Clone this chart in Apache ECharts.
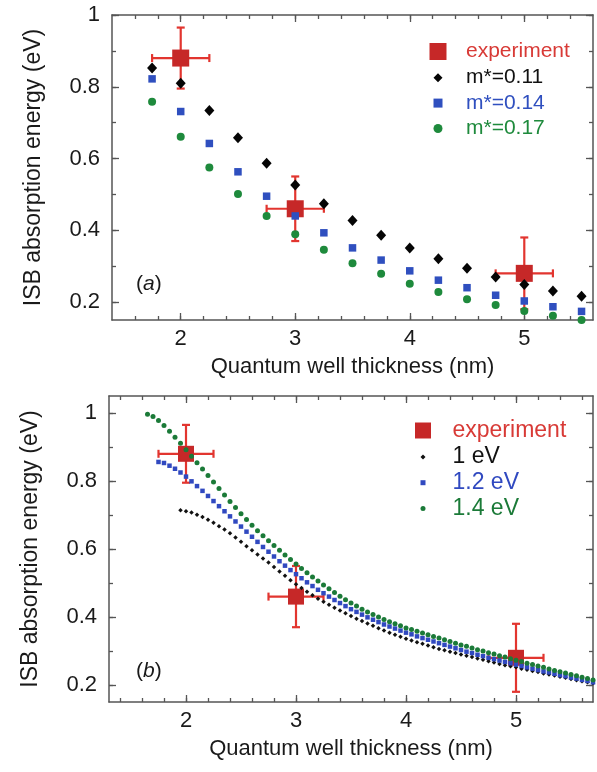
<!DOCTYPE html>
<html><head><meta charset="utf-8">
<script src="https://cdn.jsdelivr.net/npm/echarts@6/dist/echarts.min.js"></script>
<style>html,body{margin:0;padding:0;background:#fff}#c{width:597px;height:772px}</style>
</head><body><div id="c"></div>
<script>
// ---------- Panel (a) data ----------
const thicknessA = [1.75,2,2.25,2.5,2.75,3,3.25,3.5,3.75,4,4.25,4.5,4.75,5,5.25,5.5];
const mStar011 = [0.852,0.810,0.734,0.658,0.587,0.526,0.474,0.427,0.386,0.351,0.321,0.294,0.270,0.249,0.231,0.216];
const mStar014 = [0.822,0.731,0.642,0.563,0.495,0.440,0.393,0.351,0.317,0.287,0.261,0.240,0.219,0.203,0.187,0.174];
const mStar017 = [0.758,0.661,0.575,0.501,0.440,0.389,0.346,0.308,0.279,0.251,0.228,0.208,0.192,0.175,0.162,0.150];

// ---------- Experiment (both panels) ----------
const expThickness = [2,3,5];
const expEnergy = [0.88,0.46,0.28];
const expThicknessErr = [0.25,0.25,0.25];
const expEnergyErr = [0.085,0.09,0.10];

// ---------- Panel (b) data ----------
const thicknessB = [1.65,1.7,1.75,1.8,1.85,1.9,1.95,
 2,2.05,2.1,2.15,2.2,2.25,2.3,2.35,2.4,2.45,
 2.5,2.55,2.6,2.65,2.7,2.75,2.8,2.85,2.9,2.95,
 3,3.05,3.1,3.15,3.2,3.25,3.3,3.35,3.4,3.45,
 3.5,3.55,3.6,3.65,3.7,3.75,3.8,3.85,3.9,3.95,
 4,4.05,4.1,4.15,4.2,4.25,4.3,4.35,4.4,4.45,
 4.5,4.55,4.6,4.65,4.7,4.75,4.8,4.85,4.9,4.95,
 5,5.05,5.1,5.15,5.2,5.25,5.3,5.35,5.4,5.45,
 5.5,5.55,5.6,5.65,5.7];
const offset1eV = [null,null,null,null,null,null,0.714,
 0.711,0.707,0.701,0.694,0.686,0.677,0.667,0.657,0.646,0.634,
 0.621,0.608,0.596,0.584,0.572,0.560,0.547,0.534,0.521,0.508,
 0.496,0.485,0.474,0.464,0.454,0.445,0.436,0.427,0.419,0.411,
 0.403,0.395,0.388,0.381,0.374,0.367,0.360,0.354,0.348,0.342,
 0.336,0.331,0.326,0.321,0.316,0.311,0.306,0.302,0.298,0.294,
 0.290,0.286,0.282,0.278,0.274,0.270,0.266,0.262,0.258,0.255,
 0.252,0.248,0.245,0.241,0.238,0.234,0.231,0.228,0.224,0.221,
 0.218,0.214,0.211,0.208,0.205];
const offset12eV = [null,null,0.856,0.853,0.845,0.836,0.825,
 0.813,0.799,0.785,0.771,0.756,0.741,0.726,0.711,0.696,0.681,
 0.666,0.651,0.636,0.621,0.606,0.592,0.578,0.564,0.551,0.538,
 0.526,0.514,0.502,0.491,0.480,0.470,0.460,0.450,0.441,0.432,
 0.423,0.415,0.407,0.399,0.392,0.385,0.378,0.372,0.366,0.360,
 0.354,0.349,0.343,0.338,0.333,0.328,0.323,0.318,0.313,0.308,
 0.303,0.298,0.294,0.289,0.285,0.280,0.276,0.272,0.268,0.264,
 0.260,0.256,0.252,0.248,0.244,0.240,0.237,0.233,0.229,0.226,
 0.222,0.219,0.215,0.212,0.208];
const offset14eV = [0.996,0.990,0.978,0.963,0.946,0.929,0.911,
 0.892,0.873,0.854,0.835,0.816,0.797,0.778,0.759,0.740,0.722,
 0.704,0.687,0.670,0.654,0.639,0.624,0.610,0.596,0.582,0.569,
 0.556,0.543,0.530,0.518,0.506,0.494,0.483,0.472,0.461,0.451,
 0.441,0.432,0.423,0.415,0.407,0.400,0.393,0.386,0.380,0.374,
 0.368,0.363,0.358,0.353,0.348,0.343,0.338,0.333,0.328,0.323,
 0.318,0.314,0.309,0.304,0.300,0.295,0.291,0.286,0.282,0.277,
 0.273,0.269,0.264,0.260,0.256,0.252,0.247,0.243,0.239,0.235,
 0.231,0.227,0.223,0.219,0.215];

// ---------- Tick values ----------
const xMajorTicks = [2,3,4,5];
const xMinorTicksA = [1.6,1.8,2,2.2,2.4,2.6,2.8,3,3.2,3.4,3.6,3.8,4,4.2,4.4,4.6,4.8,5,5.2,5.4];
const xMinorTicksB = [1.4,1.6,1.8,2,2.2,2.4,2.6,2.8,3,3.2,3.4,3.6,3.8,4,4.2,4.4,4.6,4.8,5,5.2,5.4,5.6];
const yMajorTicks = [0.2,0.4,0.6,0.8,1];
const yMinorTicks = [0.2,0.3,0.4,0.5,0.6,0.7,0.8,0.9,1];

const FONT = '"Liberation Sans", Arial, Helvetica, sans-serif';
const AXIS_COLOR = '#555';
const RED_ERR = '#e2352f';
const RED_SQ = '#c62828';
const RED_TXT = '#d83a36';

function pairs(xs, ys) {
  const out = [];
  for (let i = 0; i < xs.length; i++) if (ys[i] != null) out.push([xs[i], ys[i]]);
  return out;
}
const expErrData = expThickness.map((x, i) => [x, expEnergy[i], expThicknessErr[i], expEnergyErr[i]]);

function axesFor(g, xr, yr, xMinor, yMinor) {
  const line = {show: true, onZero: false, lineStyle: {color: AXIS_COLOR, width: 1.5}};
  const tickStyle = {color: AXIS_COLOR, width: 1.3};
  const xs = [
    {gridIndex: g, type: 'value', position: 'bottom', min: xr[0], max: xr[1],
     axisLine: line, splitLine: {show: false},
     axisTick: {inside: true, length: 7, customValues: xMajorTicks, lineStyle: tickStyle},
     axisLabel: {customValues: xMajorTicks, margin: 8, fontSize: 22, color: '#1a1a1a', fontFamily: FONT},
     name: 'Quantum well thickness (nm)', nameLocation: 'middle', nameGap: 36,
     nameTextStyle: {fontSize: 22, color: '#1a1a1a', fontFamily: FONT}},
    {gridIndex: g, type: 'value', position: 'top', min: xr[0], max: xr[1],
     axisLine: line, splitLine: {show: false},
     axisTick: {inside: true, length: 7, customValues: xMajorTicks, lineStyle: tickStyle},
     axisLabel: {show: false}},
    {gridIndex: g, type: 'value', position: 'bottom', min: xr[0], max: xr[1],
     axisLine: {show: false}, splitLine: {show: false},
     axisTick: {inside: true, length: 4, customValues: xMinor, lineStyle: tickStyle},
     axisLabel: {show: false}},
    {gridIndex: g, type: 'value', position: 'top', min: xr[0], max: xr[1],
     axisLine: {show: false}, splitLine: {show: false},
     axisTick: {inside: true, length: 4, customValues: xMinor, lineStyle: tickStyle},
     axisLabel: {show: false}}
  ];
  const ys = [
    {gridIndex: g, type: 'value', position: 'left', min: yr[0], max: yr[1],
     axisLine: line, splitLine: {show: false},
     axisTick: {inside: true, length: 7, customValues: yMajorTicks, lineStyle: tickStyle},
     axisLabel: {customValues: yMajorTicks, margin: 12, fontSize: 22, color: '#1a1a1a', fontFamily: FONT},
     name: 'ISB absorption energy (eV)', nameLocation: 'middle', nameGap: 67,
     nameTextStyle: {fontSize: 23, color: '#1a1a1a', fontFamily: FONT}},
    {gridIndex: g, type: 'value', position: 'right', min: yr[0], max: yr[1],
     axisLine: line, splitLine: {show: false},
     axisTick: {inside: true, length: 7, customValues: yMajorTicks, lineStyle: tickStyle},
     axisLabel: {show: false}},
    {gridIndex: g, type: 'value', position: 'left', min: yr[0], max: yr[1],
     axisLine: {show: false}, splitLine: {show: false},
     axisTick: {inside: true, length: 4, customValues: yMinor, lineStyle: tickStyle},
     axisLabel: {show: false}},
    {gridIndex: g, type: 'value', position: 'right', min: yr[0], max: yr[1],
     axisLine: {show: false}, splitLine: {show: false},
     axisTick: {inside: true, length: 4, customValues: yMinor, lineStyle: tickStyle},
     axisLabel: {show: false}}
  ];
  return {xs, ys};
}
const A = axesFor(0, [1.4, 5.6], [0.15, 1.0], xMinorTicksA, yMinorTicks);
const B = axesFor(1, [1.3, 5.7], [0.15, 1.05], xMinorTicksB, yMinorTicks);

function renderErr(params, api) {
  const x = api.value(0), y = api.value(1), dx = api.value(2), dy = api.value(3);
  const l = api.coord([x - dx, y]), r = api.coord([x + dx, y]);
  const t = api.coord([x, y + dy]), b = api.coord([x, y - dy]);
  const cap = 4;
  const style = {stroke: RED_ERR, lineWidth: 2.2};
  const ln = (x1, y1, x2, y2) => ({type: 'line', shape: {x1, y1, x2, y2}, style});
  return {type: 'group', children: [
    ln(l[0], l[1], r[0], r[1]), ln(t[0], t[1], b[0], b[1]),
    ln(l[0], l[1] - cap, l[0], l[1] + cap), ln(r[0], r[1] - cap, r[0], r[1] + cap),
    ln(t[0] - cap, t[1], t[0] + cap, t[1]), ln(b[0] - cap, b[1], b[0] + cap, b[1])
  ]};
}

const SQ = 'path://M0,0L1,0L1,1L0,1Z';
const DIA = 'path://M0.5,0L1,0.5L0.5,1L0,0.5Z';
const OPQ = 1;

const chart = echarts.init(document.getElementById('c'), null, {renderer: 'canvas'});
chart.setOption({
  backgroundColor: '#fff',
  animation: false,
  textStyle: {fontFamily: FONT},
  grid: [
    {left: 112, top: 15, width: 481, height: 305},
    {left: 109, top: 396, width: 484, height: 306}
  ],
  xAxis: A.xs.concat(B.xs),
  yAxis: A.ys.concat(B.ys),
  legend: [
    {left: 429.5, top: 39, orient: 'vertical', padding: 0, itemGap: 0, itemWidth: 46, itemHeight: 17,
     symbolKeepAspect: true, selectedMode: false,
     textStyle: {fontSize: 21, lineHeight: 25, fontFamily: FONT},
     data: [{name: 'experiment', icon: SQ, textStyle: {color: RED_TXT}}]},
    {left: 433.5, top: 65, orient: 'vertical', padding: 0, itemGap: 0, itemWidth: 46, itemHeight: 9,
     symbolKeepAspect: true, selectedMode: false,
     textStyle: {fontSize: 21, lineHeight: 25.4, fontFamily: FONT},
     data: [{name: 'm*=0.11', icon: DIA, textStyle: {color: '#111'}},
            {name: 'm*=0.14', icon: SQ, textStyle: {color: '#2f4fbf'}},
            {name: 'm*=0.17', icon: 'circle', textStyle: {color: '#1e8a3c'}}]},
    {left: 415, top: 418, orient: 'vertical', padding: 0, itemGap: 0, itemWidth: 49, itemHeight: 16,
     symbolKeepAspect: true, selectedMode: false,
     textStyle: {fontSize: 23, lineHeight: 25, fontFamily: FONT},
     data: [{name: 'experiment', icon: SQ, textStyle: {color: RED_TXT}}]},
    {left: 420.5, top: 444, orient: 'vertical', padding: 0, itemGap: 0, itemWidth: 49, itemHeight: 5,
     symbolKeepAspect: true, selectedMode: false,
     textStyle: {fontSize: 23, lineHeight: 25.8, fontFamily: FONT},
     data: [{name: '1 eV', icon: DIA, textStyle: {color: '#111'}},
            {name: '1.2 eV', icon: SQ, textStyle: {color: '#3049c0'}},
            {name: '1.4 eV', icon: 'circle', textStyle: {color: '#1b7a38'}}]}
  ],
  graphic: [
    {type: 'text', left: 136, top: 274, style: {text: '{n|(}{i|a}{n|)}', rich: {
      n: {fontSize: 21, fontFamily: FONT, fill: '#1a1a1a'},
      i: {fontSize: 21, fontFamily: FONT, fontStyle: 'italic', fill: '#1a1a1a'}}}},
    {type: 'text', left: 136, top: 661, style: {text: '{n|(}{i|b}{n|)}', rich: {
      n: {fontSize: 21, fontFamily: FONT, fill: '#1a1a1a'},
      i: {fontSize: 21, fontFamily: FONT, fontStyle: 'italic', fill: '#1a1a1a'}}}}
  ],
  series: [
    // Panel (a)
    {name: 'expErrA', type: 'custom', xAxisIndex: 0, yAxisIndex: 0, renderItem: renderErr,
     data: expErrData, encode: {x: 0, y: 1}, z: 2},
    {name: 'experiment', type: 'scatter', xAxisIndex: 0, yAxisIndex: 0, symbol: 'rect', symbolSize: 17,
     itemStyle: {color: RED_SQ, opacity: OPQ}, data: pairs(expThickness, expEnergy), z: 3},
    {name: 'm*=0.11', type: 'scatter', xAxisIndex: 0, yAxisIndex: 0, symbol: 'diamond', symbolSize: [10, 11],
     itemStyle: {color: '#050505', opacity: OPQ}, data: pairs(thicknessA, mStar011), z: 4},
    {name: 'm*=0.14', type: 'scatter', xAxisIndex: 0, yAxisIndex: 0, symbol: 'rect', symbolSize: 7.5,
     itemStyle: {color: '#2f4fbf', opacity: OPQ}, data: pairs(thicknessA, mStar014), z: 4},
    {name: 'm*=0.17', type: 'scatter', xAxisIndex: 0, yAxisIndex: 0, symbol: 'circle', symbolSize: 8,
     itemStyle: {color: '#1e8a3c', opacity: OPQ}, data: pairs(thicknessA, mStar017), z: 4},
    // Panel (b)
    {name: 'expErrB', type: 'custom', xAxisIndex: 4, yAxisIndex: 4, renderItem: renderErr,
     data: expErrData, encode: {x: 0, y: 1}, z: 2},
    {name: 'experiment', type: 'scatter', xAxisIndex: 4, yAxisIndex: 4, symbol: 'rect', symbolSize: 16,
     itemStyle: {color: RED_SQ, opacity: OPQ}, data: pairs(expThickness, expEnergy), z: 3},
    {name: '1 eV', type: 'scatter', xAxisIndex: 4, yAxisIndex: 4, symbol: 'diamond', symbolSize: 4.5,
     itemStyle: {color: '#111', opacity: OPQ}, data: pairs(thicknessB, offset1eV), z: 4},
    {name: '1.2 eV', type: 'scatter', xAxisIndex: 4, yAxisIndex: 4, symbol: 'rect', symbolSize: 4.5,
     itemStyle: {color: '#3049c0', opacity: OPQ}, data: pairs(thicknessB, offset12eV), z: 4},
    {name: '1.4 eV', type: 'scatter', xAxisIndex: 4, yAxisIndex: 4, symbol: 'circle', symbolSize: 5,
     itemStyle: {color: '#1b7a38', opacity: OPQ}, data: pairs(thicknessB, offset14eV), z: 4}
  ]
});
</script>
</body></html>
